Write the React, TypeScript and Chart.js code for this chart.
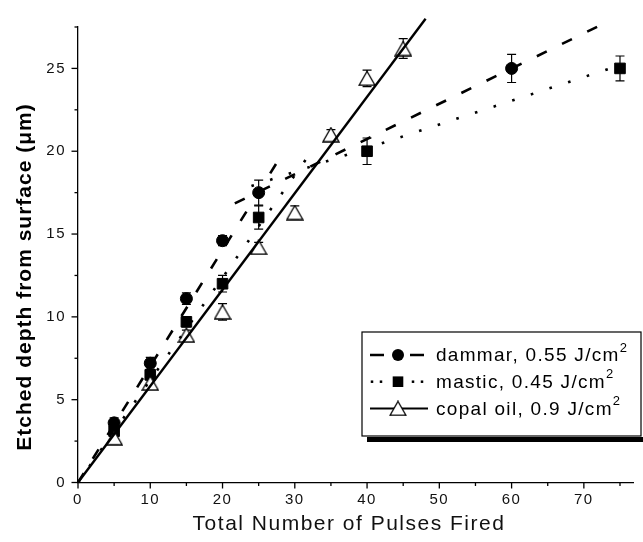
import React, { useEffect, useRef } from 'react';
import { Chart, registerables } from 'chart.js';

Chart.register(...registerables);

// ---- data ----
const dammarX = [5, 10, 15, 20, 25, 60];
const dammarY = [3.6, 7.2, 11.1, 14.6, 17.5, 25.0];
const dammarErr = [0.3, 0.35, 0.35, 0.3, 0.75, 0.85];

const masticX = [5, 10, 15, 20, 25, 40, 75];
const masticY = [3.1, 6.5, 9.7, 12.0, 16.0, 20.0, 25.0];
const masticErr = [0.3, 0.3, 0.3, 0.5, 0.7, 0.8, 0.75];

const copalX = [5, 10, 15, 20, 25, 30, 35, 40, 45];
const copalY = [2.7, 6.0, 8.9, 10.3, 14.2, 16.3, 21.0, 24.4, 26.2];
const copalErr = [0.4, 0.35, 0.3, 0.5, 0.3, 0.4, 0.3, 0.5, 0.6];

// linear fits (endpoints)
const dammarFitSteepX = [0, 27.5];
const dammarFitSteepY = [0, 19.3];
const dammarFitFlatX = [21.7, 72.5];
const dammarFitFlatY = [16.85, 27.65];
const masticFitSteepX = [0, 32.5];
const masticFitSteepY = [0, 20.1];
const masticFitFlatX = [24, 74];
const masticFitFlatY = [17.9, 25.05];
const copalFitX = [0, 48.1];
const copalFitY = [0, 28.0];

const xMajorTicks = [0, 10, 20, 30, 40, 50, 60, 70];
const yMajorTicks = [0, 5, 10, 15, 20, 25];

const legendLabels = ['dammar, 0.55 J/cm', 'mastic, 0.45 J/cm', 'copal oil, 0.9 J/cm'];
const legendSup = '2';
const xTitle = 'Total Number of Pulses Fired';
const yTitle = 'Etched depth from surface (\u03bcm)';

const FONT = "Arial, 'Liberation Sans', sans-serif";

const pts = (xs: number[], ys: number[]) => xs.map((x, i) => ({ x, y: ys[i] }));

function makeTriangle(): HTMLCanvasElement {
  const c = document.createElement('canvas');
  c.width = 18;
  c.height = 16;
  const g = c.getContext('2d')!;
  g.beginPath();
  g.moveTo(9, 1);
  g.lineTo(17, 15);
  g.lineTo(1, 15);
  g.closePath();
  g.fillStyle = '#fff';
  g.fill();
  g.lineWidth = 1.3;
  g.strokeStyle = '#000';
  g.stroke();
  return c;
}

export default function App() {
  const ref = useRef<HTMLCanvasElement | null>(null);

  useEffect(() => {
    if (!ref.current) return;
    const tri = makeTriangle();

    const errorSets = [
      { xs: dammarX, ys: dammarY, es: dammarErr },
      { xs: masticX, ys: masticY, es: masticErr },
      { xs: copalX, ys: copalY, es: copalErr },
    ];

    const spacing = {
      id: 'spacing',
      beforeDraw(chart: any) {
        (chart.ctx as any).letterSpacing = '1.5px';
      },
      beforeDatasetsDraw(chart: any) {
        (chart.ctx as any).letterSpacing = '0px';
      },
    };

    const errorBars = {
      id: 'errorBars',
      beforeDatasetsDraw(chart: any) {
        const { ctx } = chart;
        const xs = chart.scales.x;
        const ys = chart.scales.y;
        ctx.save();
        ctx.strokeStyle = '#000';
        ctx.lineWidth = 1.2;
        errorSets.forEach((s) => {
          s.xs.forEach((xv, i) => {
            const px = xs.getPixelForValue(xv);
            const top = ys.getPixelForValue(s.ys[i] + s.es[i]);
            const bot = ys.getPixelForValue(s.ys[i] - s.es[i]);
            ctx.beginPath();
            ctx.moveTo(px, top);
            ctx.lineTo(px, bot);
            ctx.moveTo(px - 4.5, top);
            ctx.lineTo(px + 4.5, top);
            ctx.moveTo(px - 4.5, bot);
            ctx.lineTo(px + 4.5, bot);
            ctx.stroke();
          });
        });
        ctx.restore();
      },
    };

    const axisDecor = {
      id: 'axisDecor',
      afterDraw(chart: any) {
        const { ctx, chartArea } = chart;
        const xs = chart.scales.x;
        const ys = chart.scales.y;
        ctx.save();
        ctx.strokeStyle = '#000';
        ctx.lineWidth = 1.3;
        // tick marks
        xs.ticks.forEach((t: any) => {
          const p = xs.getPixelForValue(t.value);
          const len = xMajorTicks.includes(t.value) ? 6 : 3.5;
          ctx.beginPath();
          ctx.moveTo(p, chartArea.bottom);
          ctx.lineTo(p, chartArea.bottom + len);
          ctx.stroke();
        });
        ys.ticks.forEach((t: any) => {
          const p = ys.getPixelForValue(t.value);
          const len = yMajorTicks.includes(t.value) ? 6.5 : 3.5;
          ctx.beginPath();
          ctx.moveTo(chartArea.left, p);
          ctx.lineTo(chartArea.left - len, p);
          ctx.stroke();
        });

        // axis titles
        ctx.fillStyle = '#111';
        ctx.textAlign = 'center';
        ctx.textBaseline = 'middle';
        (ctx as any).letterSpacing = '1.5px';
        ctx.font = `21px ${FONT}`;
        ctx.fillText(xTitle, 349, 524);
        ctx.save();
        ctx.translate(25, 277);
        ctx.rotate(-Math.PI / 2);
        (ctx as any).letterSpacing = '1px';
        ctx.fillStyle = '#000';
        ctx.font = `bold 21px ${FONT}`;
        ctx.fillText(yTitle, 0, 0);
        ctx.restore();

        // legend
        const bx = 362, by = 332, bw = 279, bh = 104;
        ctx.fillStyle = '#000';
        ctx.fillRect(bx + 5, by + bh + 1, 643 - bx, 5);
        ctx.fillStyle = '#fff';
        ctx.fillRect(bx, by, bw, bh);
        ctx.lineWidth = 1.2;
        ctx.strokeStyle = '#000';
        ctx.strokeRect(bx, by, bw, bh);

        const rows = [355, 381.7, 408.4];
        const sx0 = 370, sx1 = 428, mx = 398;
        // dammar
        ctx.lineWidth = 2.5;
        ctx.beginPath();
        ctx.moveTo(sx0, rows[0]); ctx.lineTo(384, rows[0]);
        ctx.moveTo(410, rows[0]); ctx.lineTo(424, rows[0]);
        ctx.stroke();
        ctx.fillStyle = '#000';
        ctx.beginPath();
        ctx.arc(mx, rows[0], 6, 0, Math.PI * 2);
        ctx.fill();
        // mastic
        [372, 381, 413, 422].forEach((dx) => ctx.fillRect(dx - 1.25, rows[1] - 1.25, 2.5, 2.5));
        ctx.fillRect(mx - 5.3, rows[1] - 5.3, 10.6, 10.6);
        // copal
        ctx.lineWidth = 2;
        ctx.beginPath();
        ctx.moveTo(sx0, rows[2]); ctx.lineTo(sx1, rows[2]);
        ctx.stroke();
        ctx.drawImage(tri, mx - tri.width / 2, rows[2] - tri.height / 2);

        ctx.textAlign = 'left';
        ctx.textBaseline = 'middle';
        ctx.fillStyle = '#000';
        legendLabels.forEach((lab, i) => {
          (ctx as any).letterSpacing = '1.3px';
          ctx.font = `19px ${FONT}`;
          ctx.fillText(lab, 436, rows[i] + 1);
          const w = ctx.measureText(lab).width;
          (ctx as any).letterSpacing = '0px';
          ctx.font = `13px ${FONT}`;
          ctx.fillText(legendSup, 436 + w, rows[i] - 7);
        });
        (ctx as any).letterSpacing = '0px';
        ctx.restore();
      },
    };

    const tickFont = { family: FONT, size: 15 };

    const chart = new Chart(ref.current, {
      type: 'scatter',
      data: {
        datasets: [
          {
            label: 'dammar fit steep',
            data: pts(dammarFitSteepX, dammarFitSteepY),
            showLine: true, pointRadius: 0, borderColor: '#000', borderWidth: 2.6,
            borderDash: [11, 17], order: 1, clip: false,
          },
          {
            label: 'dammar fit flat',
            data: pts(dammarFitFlatX, dammarFitFlatY),
            showLine: true, pointRadius: 0, borderColor: '#000', borderWidth: 2.6,
            borderDash: [11, 17], order: 1, clip: false,
          },
          {
            label: 'mastic fit steep',
            data: pts(masticFitSteepX, masticFitSteepY),
            showLine: true, pointRadius: 0, borderColor: '#000', borderWidth: 2.6,
            borderDash: [2.6, 17], order: 1, clip: false,
          },
          {
            label: 'mastic fit flat',
            data: pts(masticFitFlatX, masticFitFlatY),
            showLine: true, pointRadius: 0, borderColor: '#000', borderWidth: 2.6,
            borderDash: [2.6, 17], order: 1, clip: false,
          },
          {
            label: 'copal fit',
            data: pts(copalFitX, copalFitY),
            showLine: true, pointRadius: 0, borderColor: '#000', borderWidth: 2.4,
            order: 1, clip: false,
          },
          {
            label: 'copal oil, 0.9 J/cm2',
            data: pts(copalX, copalY),
            pointStyle: tri as any, pointRadius: 9, order: 3, clip: false,
          },
          {
            label: 'dammar, 0.55 J/cm2',
            data: pts(dammarX, dammarY),
            pointStyle: 'circle', pointRadius: 6, backgroundColor: '#000', borderColor: '#000',
            borderWidth: 1, order: 4, clip: false,
          },
          {
            label: 'mastic, 0.45 J/cm2',
            data: pts(masticX, masticY),
            pointStyle: 'rect', pointRadius: 7.5, backgroundColor: '#000', borderColor: '#000',
            borderWidth: 1, order: 5, clip: false,
          },
        ],
      },
      options: {
        animation: false,
        responsive: false,
        layout: { padding: { top: 27, left: 0, right: 0, bottom: 0 } },
        plugins: { legend: { display: false }, tooltip: { enabled: false }, title: { display: false } },
        scales: {
          x: {
            type: 'linear', min: 0, max: 76.8,
            grid: { display: false, drawTicks: false },
            border: { display: true, color: '#000', width: 1.3 },
            ticks: {
              stepSize: 5, includeBounds: false, font: tickFont, color: '#111', padding: 8,
              maxRotation: 0, autoSkip: false,
              callback: (v: any) => (xMajorTicks.includes(Number(v)) ? String(v) : ''),
            },
            afterFit: (s: any) => { s.height = 59.5; },
          },
          y: {
            type: 'linear', min: 0, max: 27.5,
            grid: { display: false, drawTicks: false },
            border: { display: true, color: '#000', width: 1.3 },
            ticks: {
              stepSize: 2.5, font: tickFont, color: '#111', padding: 12, autoSkip: false,
              callback: (v: any) => (yMajorTicks.includes(Number(v)) ? String(v) : ''),
            },
            afterFit: (s: any) => { s.width = 78; },
          },
        },
      },
      plugins: [spacing, errorBars, axisDecor],
    });

    return () => chart.destroy();
  }, []);

  return (
    <div style={{ position: 'absolute', left: 0, top: 0, width: 643, height: 542, background: '#fff' }}>
      <canvas ref={ref} width={643} height={542} style={{ display: 'block' }} />
    </div>
  );
}
